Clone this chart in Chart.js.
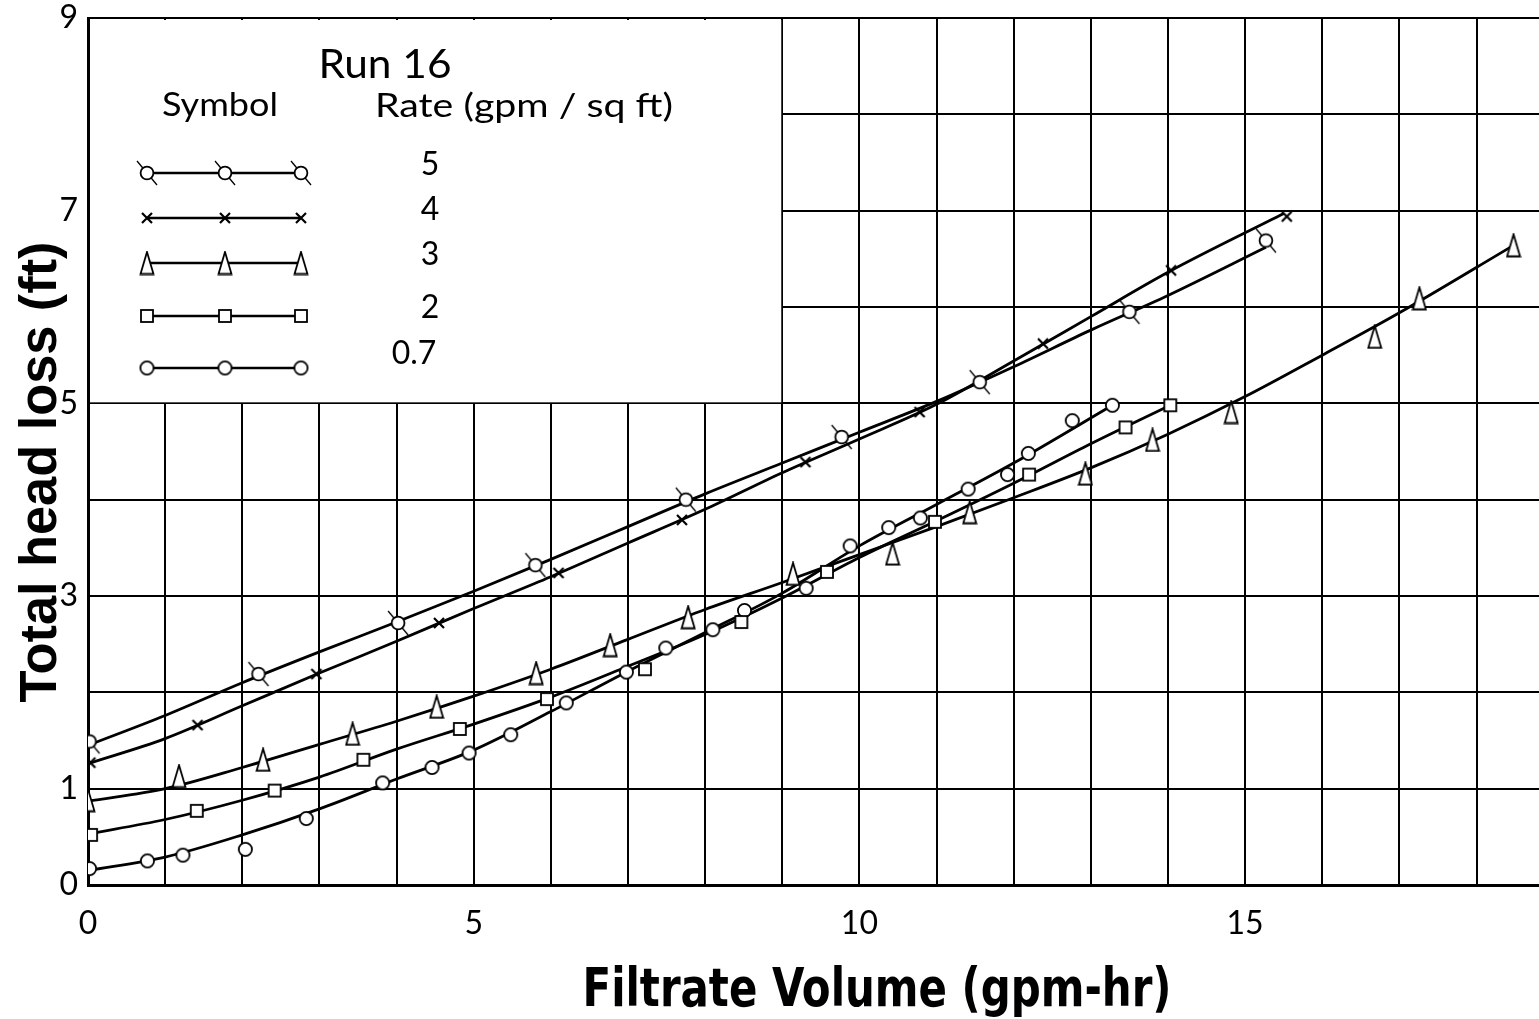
<!DOCTYPE html>
<html><head><meta charset="utf-8">
<script src="https://cdn.jsdelivr.net/npm/chart.js@4.4.1/dist/chart.umd.min.js"></script>
<style>html,body{margin:0;padding:0;background:#fff;overflow:hidden}#wrap{position:relative;width:1539px;height:1019px}</style>
</head><body><div id="wrap"><canvas id="c" width="1539" height="1019"></canvas></div>
<script>
// ---------- data ----------
const rateLabels = ['5', '4', '3', '2', '0.7'];
const legendTitle = 'Run 16';
const legendHeadSymbol = 'Symbol';
const legendHeadRate = 'Rate (gpm / sq ft)';
const xTitle = 'Filtrate Volume (gpm-hr)';
const yTitle = 'Total head loss (ft)';
const xTickLabels = [0, 5, 10, 15];
const yTickLabels = [0, 1, 3, 5, 7, 9];

// measured points
const r5x = [0.02, 2.21, 4.02, 5.8, 7.75, 9.77, 11.56, 13.5, 15.27];
const r5y = [1.49, 2.19, 2.72, 3.32, 4.0, 4.65, 5.22, 5.95, 6.69];
const r4x = [0.03, 1.42, 2.96, 4.55, 6.1, 7.7, 9.3, 10.78, 12.38, 14.04, 15.54];
const r4y = [1.27, 1.66, 2.19, 2.72, 3.24, 3.79, 4.39, 4.91, 5.62, 6.38, 6.94];
const r3x = [0.0, 1.18, 2.27, 3.43, 4.52, 5.81, 6.77, 7.78, 9.14, 10.43, 11.43, 12.93, 13.8, 14.82, 16.68, 17.26, 18.48];
const r3y = [0.88, 1.13, 1.30, 1.57, 1.85, 2.20, 2.49, 2.78, 3.23, 3.44, 3.87, 4.27, 4.62, 4.91, 5.69, 6.09, 6.64];
const r2x = [0.04, 1.41, 2.42, 3.57, 4.82, 5.95, 7.22, 8.47, 9.58, 10.98, 12.2, 13.45, 14.03];
const r2y = [0.52, 0.77, 0.98, 1.30, 1.62, 1.93, 2.24, 2.73, 3.25, 3.77, 4.26, 4.75, 4.98];
const r07x = [0.02, 0.77, 1.23, 2.04, 2.83, 3.82, 4.46, 4.94, 5.48, 6.2, 6.98, 7.49, 8.1, 8.51, 9.31, 9.88, 10.38, 10.79, 11.41, 11.92, 12.19, 12.76, 13.28];
const r07y = [0.17, 0.25, 0.31, 0.37, 0.69, 1.06, 1.22, 1.37, 1.56, 1.89, 2.21, 2.46, 2.65, 2.85, 3.08, 3.52, 3.71, 3.81, 4.11, 4.26, 4.48, 4.82, 4.98];

// hand-fitted curves (vertices)
const f5x = [0, 1, 2, 3, 4, 5, 6, 7, 8, 9, 10, 11, 12, 13, 14, 15.27];
const f5y = [1.45, 1.76, 2.1, 2.42, 2.73, 3.05, 3.38, 3.72, 4.06, 4.38, 4.7, 5.02, 5.38, 5.76, 6.12, 6.62];
const f4x = [0, 1, 2, 3, 4, 5, 6, 7, 8, 9, 10, 11, 12, 13, 14, 15.5];
const f4y = [1.26, 1.52, 1.86, 2.2, 2.53, 2.87, 3.2, 3.55, 3.9, 4.28, 4.63, 4.99, 5.44, 5.9, 6.36, 6.97];
const f3x = [0, 1, 2, 3, 4, 5, 6, 7, 8, 9, 10, 11, 12, 13, 14, 15, 16, 17, 18.48];
const f3y = [0.87, 1.0, 1.22, 1.46, 1.7, 1.96, 2.24, 2.55, 2.86, 3.14, 3.43, 3.72, 4.02, 4.33, 4.68, 5.07, 5.5, 5.94, 6.64];
const f2x = [0, 1, 2, 3, 4, 5, 6, 7, 8, 9, 10, 11, 12, 13, 14.03];
const f2y = [0.53, 0.68, 0.88, 1.12, 1.41, 1.67, 1.95, 2.27, 2.6, 2.98, 3.4, 3.78, 4.17, 4.58, 4.98];
const f07x = [0, 1, 2, 3, 4, 5, 6, 7, 8, 9, 10, 11, 12, 13.28];
const f07y = [0.15, 0.29, 0.52, 0.79, 1.1, 1.4, 1.8, 2.22, 2.62, 3.03, 3.52, 3.95, 4.38, 4.98];

// ---------- marker images ----------
function mk(w, h, draw) {
  const c = document.createElement('canvas'); c.width = w; c.height = h;
  const g = c.getContext('2d'); g.strokeStyle = '#000'; g.fillStyle = '#fff'; g.lineWidth = 1.8;
  draw(g); return c;
}
const icoSlash = mk(26, 28, g => {
  g.lineWidth = 1.3; g.beginPath(); g.moveTo(3, 2); g.lineTo(23, 26); g.stroke();
  g.lineWidth = 1.8; g.beginPath(); g.arc(13, 14, 6.4, 0, Math.PI * 2); g.fill(); g.stroke();
});
const icoX = mk(14, 14, g => {
  g.lineWidth = 2.2; g.beginPath(); g.moveTo(2, 2); g.lineTo(12, 12); g.moveTo(12, 2); g.lineTo(2, 12); g.stroke();
});
const icoTri = mk(16, 25, g => {
  g.beginPath(); g.moveTo(8, 1.5); g.lineTo(14.5, 23.5); g.lineTo(1.5, 23.5); g.closePath(); g.fill(); g.stroke();
});
const icoSq = mk(16, 16, g => { g.fillRect(2, 2, 12, 12); g.strokeRect(2, 2, 12, 12); });
const icoCirc = mk(17, 17, g => { g.beginPath(); g.arc(8.5, 8.5, 6.6, 0, Math.PI * 2); g.fill(); g.stroke(); });
const icons = [icoSlash, icoX, icoTri, icoSq, icoCirc];

const zip = (xs, ys) => xs.map((v, i) => ({ x: v, y: ys[i] }));
const pts = [[r5x, r5y], [r4x, r4y], [r3x, r3y], [r2x, r2y], [r07x, r07y]];
const fits = [[f5x, f5y], [f4x, f4y], [f3x, f3y], [f2x, f2y], [f07x, f07y]];

const datasets = [];
pts.forEach((p, i) => datasets.push({
  label: rateLabels[i], data: zip(p[0], p[1]), showLine: false,
  pointStyle: icons[i], pointRadius: 7, order: 1
}));
fits.forEach((f, i) => datasets.push({
  label: rateLabels[i] + ' fit', data: zip(f[0], f[1]), showLine: true,
  borderColor: '#000', borderWidth: 2.8, pointRadius: 0, tension: 0.35,
  cubicInterpolationMode: 'monotone', order: 2
}));

const FONT = 'Lato, "Noto Sans", sans-serif';

// draw text stretched horizontally to a target width
function fitText(ctx, txt, cx, by, targetW, align) {
  const w = ctx.measureText(txt).width;
  ctx.save();
  ctx.translate(cx, by);
  ctx.scale(targetW / w, 1);
  ctx.textAlign = align || 'center';
  ctx.fillText(txt, 0, 0);
  ctx.restore();
}

const boxPlugin = {
  id: 'legendBox',
  beforeDatasetsDraw(chart) {
    const { ctx, scales: { x, y } } = chart;
    const l = x.getPixelForValue(0), r = x.getPixelForValue(9);
    const t = y.getPixelForValue(9), b = y.getPixelForValue(5);
    ctx.save();
    ctx.fillStyle = '#fff';
    ctx.fillRect(l + 2, t + 2, r - l - 3, b - t - 3);
    ctx.fillStyle = '#000';
    ctx.textBaseline = 'alphabetic';
    ctx.font = '40px ' + FONT;
    fitText(ctx, legendTitle, l + 297, t + 60, 133, 'center');
    ctx.font = '32px ' + FONT;
    fitText(ctx, legendHeadSymbol, l + 132, t + 98, 116, 'center');
    fitText(ctx, legendHeadRate, l + 287, t + 99, 298, 'left');
    const rowsY = [155, 200, 245, 298, 350];
    const mx = [59, 137, 213];
    rowsY.forEach((ry, i) => {
      const yy = t + ry;
      ctx.strokeStyle = '#000'; ctx.lineWidth = 2.4;
      ctx.beginPath(); ctx.moveTo(l + mx[0], yy); ctx.lineTo(l + mx[2], yy); ctx.stroke();
      const ic = icons[i];
      mx.forEach(m => ctx.drawImage(ic, l + m - ic.width / 2, yy - ic.height / 2));
      ctx.textAlign = 'center'; ctx.textBaseline = 'middle';
      ctx.font = '32px ' + FONT;
      if (i < 4) ctx.fillText(rateLabels[i], l + 342, yy - 8);
      else ctx.fillText(rateLabels[i], l + 326, yy - 14);
      ctx.textBaseline = 'alphabetic';
    });
    ctx.restore();
  },
  afterDraw(chart) {
    const { ctx } = chart;
    ctx.save();
    ctx.fillStyle = '#000';
    ctx.font = 'bold 54px "Liberation Sans Narrow", "DejaVu Sans Condensed", "Liberation Sans", sans-serif';
    fitText(ctx, xTitle, 877, 1006, 589, 'center');
    ctx.restore();
    ctx.save();
    ctx.fillStyle = '#000';
    ctx.font = 'bold 51px "Liberation Sans", "DejaVu Sans", sans-serif';
    ctx.translate(56, 472);
    ctx.rotate(-Math.PI / 2);
    fitText(ctx, yTitle, 0, 0, 461, 'center');
    ctx.restore();
  }
};

new Chart(document.getElementById('c'), {
  type: 'scatter',
  data: { datasets },
  options: {
    responsive: false, devicePixelRatio: 1, animation: false,
    layout: { autoPadding: false, padding: { top: 18, right: 0, bottom: 0, left: 0 } },
    plugins: { legend: { display: false }, tooltip: { enabled: false } },
    scales: {
      x: {
        type: 'linear', min: 0, max: 18.81,
        afterFit(s) { s.height = 1019 - 885; s.paddingLeft = 0; s.paddingRight = 0; },
        ticks: {
          stepSize: 1, includeBounds: false, autoSkip: false, maxRotation: 0,
          color: '#000', font: { size: 32, family: FONT }, padding: 19,
          callback: v => xTickLabels.includes(v) ? String(v) : ''
        },
        grid: {
          color: c => (Number.isInteger(c.tick.value) ? '#000' : 'rgba(0,0,0,0)'),
          lineWidth: 2, drawTicks: false
        },
        border: { color: '#000', width: 3 }
      },
      y: {
        type: 'linear', min: 0, max: 9,
        afterFit(s) { s.width = 88; s.paddingTop = 0; s.paddingBottom = 0; },
        ticks: {
          stepSize: 1, autoSkip: false, color: '#000',
          font: { size: 32, family: FONT }, padding: 10,
          callback: v => yTickLabels.includes(v) ? String(v) : ''
        },
        grid: { color: '#000', lineWidth: 2, drawTicks: false },
        border: { color: '#000', width: 3 }
      }
    }
  },
  plugins: [boxPlugin]
});
</script>
</body></html>
